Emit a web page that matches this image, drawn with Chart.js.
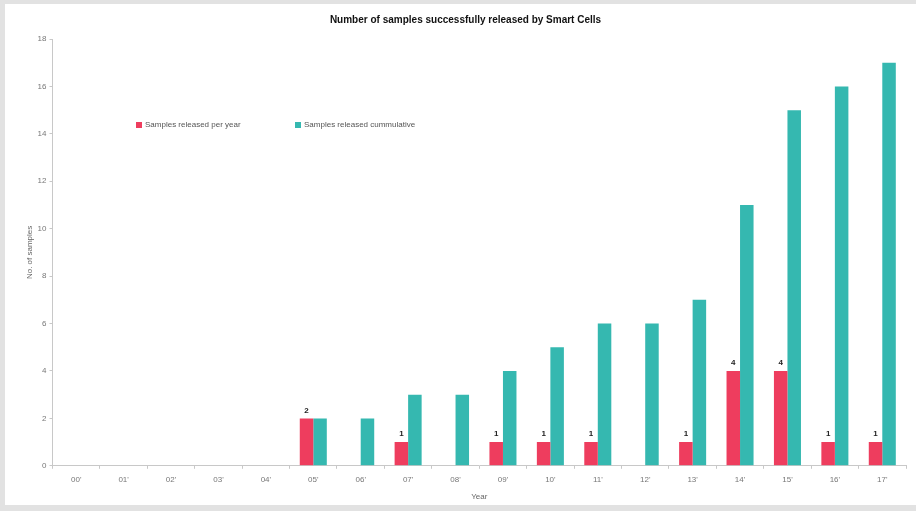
<!DOCTYPE html>
<html>
<head>
<meta charset="utf-8">
<script src="https://cdn.jsdelivr.net/npm/chart.js@4"></script>
<style>
  html, body { margin: 0; padding: 0; }
  body { width: 916px; height: 511px; background: #e2e2e2; position: relative; overflow: hidden; }
  #panel { position: absolute; left: 5px; top: 4px; width: 911px; height: 501px; background: #fff; }
  #legend { position: absolute; left: 131px; top: 116px; font: 8px "Liberation Sans", Arial, sans-serif; color: #555; }
  .legend-item { position: absolute; white-space: nowrap; top: 0; }
  .legend-box { display: inline-block; width: 6px; height: 6px; margin-right: 3px; vertical-align: -0.5px; }
</style>
</head>
<body>
<div id="panel">
  <canvas id="chart" width="911" height="501"></canvas>
  <div id="legend"></div>
</div>
<script>
const years = ["00'", "01'", "02'", "03'", "04'", "05'", "06'", "07'", "08'", "09'",
  "10'", "11'", "12'", "13'", "14'", "15'", "16'", "17'"];
const perYear = [0, 0, 0, 0, 0, 2, 0, 1, 0, 1, 1, 1, 0, 1, 4, 4, 1, 1];
const cumulative = [0, 0, 0, 0, 0, 2, 2, 3, 3, 4, 5, 6, 6, 7, 11, 15, 16, 17];
const seriesNames = ["Samples released per year", "Samples released cummulative"];
const seriesColors = ["#ee3d5e", "#35b8b0"];

const fontFamily = "'Liberation Sans', Arial, sans-serif";

// labels above the per-year bars (only non-zero values)
const valueLabels = {
  id: "valueLabels",
  afterDatasetsDraw(chart) {
    const ctx = chart.ctx;
    const meta = chart.getDatasetMeta(0);
    ctx.save();
    ctx.font = "bold 8px " + fontFamily;
    ctx.fillStyle = "#222";
    ctx.textAlign = "center";
    ctx.textBaseline = "bottom";
    meta.data.forEach((bar, i) => {
      if (!perYear[i]) {
        return;
      }
      ctx.fillText(String(perYear[i]), bar.x, bar.y - 4);
    });
    ctx.restore();
  },
};

function renderLegend() {
  const root = document.getElementById("legend");
  const offsets = [0, 159];
  seriesNames.forEach((name, i) => {
    const item = document.createElement("div");
    item.className = "legend-item";
    item.style.left = offsets[i] + "px";
    const box = document.createElement("span");
    box.className = "legend-box";
    box.style.background = seriesColors[i];
    item.append(box, document.createTextNode(name));
    root.appendChild(item);
  });
}

new Chart(document.getElementById("chart"), {
  type: "bar",
  data: {
    labels: years,
    datasets: [
      { label: seriesNames[0], data: perYear, backgroundColor: seriesColors[0] },
      { label: seriesNames[1], data: cumulative, backgroundColor: seriesColors[1] },
    ],
  },
  options: {
    responsive: false,
    animation: false,
    events: [],
    layout: { padding: { left: 20, right: 10, top: 0, bottom: 3 } },
    datasets: {
      bar: { categoryPercentage: 0.57, barPercentage: 1.0 },
    },
    plugins: {
      legend: { display: false },
      tooltip: { enabled: false },
      title: {
        display: true,
        text: "Number of samples successfully released by Smart Cells",
        color: "#111",
        font: { family: fontFamily, size: 10, weight: "bold" },
        padding: { top: 10, bottom: 13 },
      },
    },
    scales: {
      x: {
        grid: { drawOnChartArea: false, drawTicks: true, tickLength: 3, color: "#c8c8c8" },
        border: { color: "#c8c8c8" },
        ticks: { color: "#777", font: { family: fontFamily, size: 8 }, padding: 6, maxRotation: 0 },
        title: {
          display: true,
          text: "Year",
          color: "#666",
          font: { family: fontFamily, size: 8 },
          padding: { top: 2, bottom: 0 },
        },
      },
      y: {
        min: 0,
        max: 18,
        grid: { drawOnChartArea: false, drawTicks: true, tickLength: 3, color: "#c8c8c8" },
        border: { color: "#c8c8c8" },
        ticks: { stepSize: 2, color: "#777", font: { family: fontFamily, size: 8 }, padding: 3 },
        title: {
          display: true,
          text: "No. of samples",
          color: "#666",
          font: { family: fontFamily, size: 8 },
          padding: { top: 0, bottom: 0 },
        },
      },
    },
  },
  plugins: [valueLabels],
});

renderLegend();
</script>
</body>
</html>
